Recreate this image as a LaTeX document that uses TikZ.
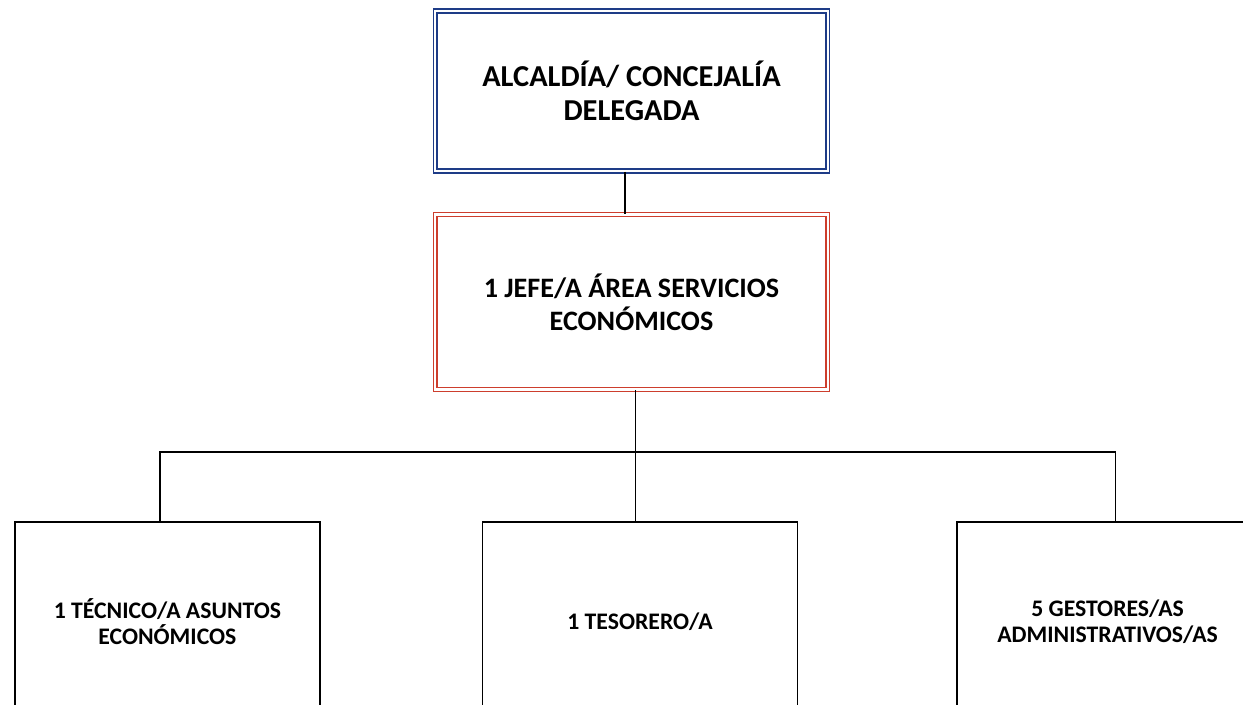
\documentclass[tikz,border=0pt]{standalone}
\usepackage{fontspec}
\setmainfont{Carlito}
\usepackage{tikz}
\usetikzlibrary{positioning}
\definecolor{alcblue}{RGB}{30,60,135}
\definecolor{jefered}{RGB}{205,62,45}
\tikzset{
    box/.style={
        draw, line width=0.9pt,
        align = center
    },
    dbox/.style={
        box, double, double distance=1.3pt,
        line width=0.9pt,
        minimum width=7.85cm
    },
    cargo/.style={
        box, minimum width=6.1cm,
        minimum height=4cm,
        font=\bfseries\fontsize{13.5}{14.8}\selectfont
    },
    line/.style = {line width=1pt}
}
\begin{document}
\begin{tikzpicture}

    \useasboundingbox (0,0) rectangle (24.86,14.08);
    \clip (0,0) rectangle (24.86,14.08);

    % Alcaldia
    \node[dbox,
        draw=alcblue,
        minimum height=3.2cm,
        font=\bfseries\fontsize{17.3}{19.5}\selectfont
    ] (alcaldia) at (12.63,12.26) {ALCALDÍA/ CONCEJALÍA\\DELEGADA};

    % Jefe
    \node[dbox,
        draw=jefered,
        minimum height=3.5cm,
        font=\bfseries\fontsize{16}{18.8}\selectfont,
        below = 0.84 of alcaldia
    ] (jefe) {1 JEFE/A ÁREA SERVICIOS\\ECONÓMICOS};

    % Bottom row
    \node[cargo, minimum width=6.3cm] (tesorero) at (12.8,1.64) {1 TESORERO/A};
    \node[cargo, left = 3.22 of tesorero] (tecnico) {1 TÉCNICO/A ASUNTOS\\ECONÓMICOS};
    \node[cargo, minimum width=6.02cm, right = 3.16 of tesorero] (gestores) {5 GESTORES/AS\\ADMINISTRATIVOS/AS};

    % Lines
    \path ([xshift=0.08cm]jefe.south) coordinate (jdrop);
    \coordinate (bus) at (jdrop |- 0,5.04);
    \draw[line] ([xshift=-0.13cm]alcaldia.south) -- ([xshift=-0.13cm]jefe.north);
    \draw[line] (jdrop) -- (bus) -- (bus |- tesorero.north);
    \draw[line] ([xshift=-0.15cm]tecnico.north) |- (bus) -| ([xshift=0.16cm]gestores.north);

\end{tikzpicture}
\end{document}
